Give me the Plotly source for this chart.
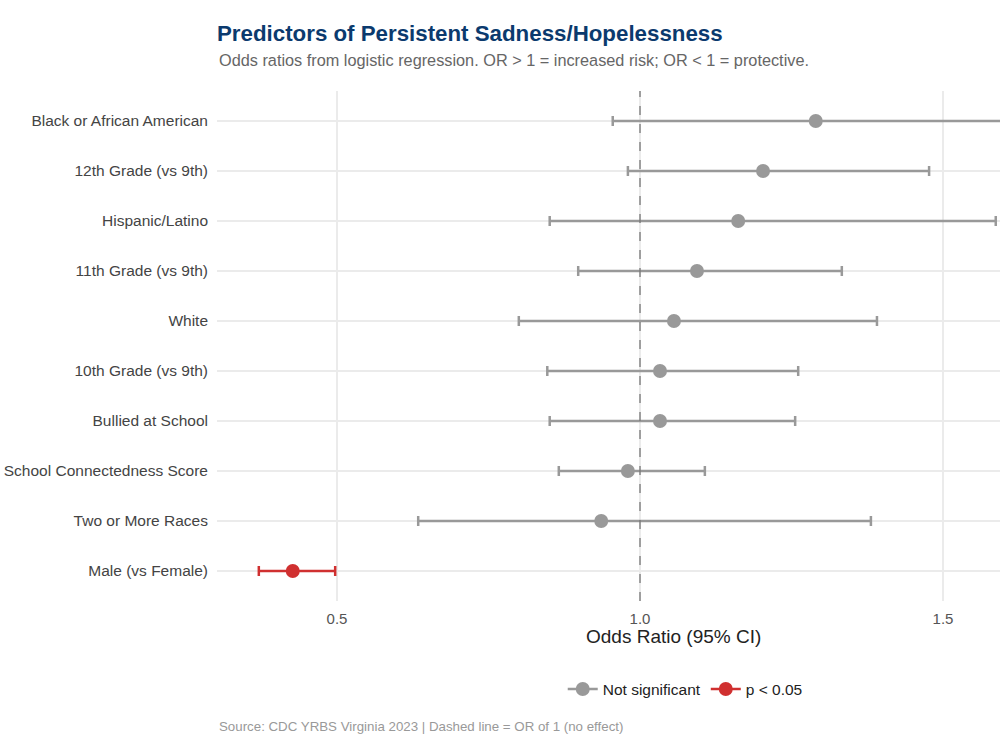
import plotly.graph_objects as go

predictors = ["Black or African American", "12th Grade (vs 9th)", "Hispanic/Latino",
              "11th Grade (vs 9th)", "White", "10th Grade (vs 9th)", "Bullied at School",
              "School Connectedness Score", "Two or More Races", "Male (vs Female)"]
odds_ratio = [1.290, 1.203, 1.162, 1.094, 1.056, 1.033, 1.033, 0.980, 0.936, 0.427]
ci_low = [0.955, 0.980, 0.851, 0.898, 0.800, 0.847, 0.851, 0.866, 0.634, 0.371]
ci_high = [1.75, 1.477, 1.587, 1.333, 1.391, 1.261, 1.256, 1.107, 1.381, 0.497]
significant = [False] * 9 + [True]
x_ticks = [0.5, 1.0, 1.5]

GREY = "#999999"
RED = "#d03030"
FONT = "Liberation Sans, Arial, sans-serif"

fig = go.Figure()
for sig, color, name in [(False, GREY, "Not significant"), (True, RED, "p < 0.05")]:
    idx = [i for i, s in enumerate(significant) if s == sig]
    xs = [odds_ratio[i] for i in idx]
    ys = [predictors[i] for i in idx]
    plus = [ci_high[i] - odds_ratio[i] for i in idx]
    minus = [odds_ratio[i] - ci_low[i] for i in idx]
    fig.add_trace(go.Scatter(
        x=xs, y=ys, mode="markers", showlegend=False, name=name,
        marker=dict(color=color, size=14),
        error_x=dict(type="data", symmetric=False, array=plus, arrayminus=minus,
                     color=color, thickness=2.5, width=5),
    ))
    fig.add_trace(go.Scatter(
        x=[None], y=[None], mode="lines+markers", name=name,
        marker=dict(color=color, size=14), line=dict(color=color, width=2.5),
    ))

fig.add_vline(x=1.0, line=dict(color="#777777", width=1.3, dash="dash"))

fig.update_layout(
    width=1000, height=750,
    paper_bgcolor="white", plot_bgcolor="white",
    margin=dict(l=217, r=0, t=91, b=149),
    font=dict(family=FONT, color="#444444", size=15.5),
    title=dict(
        text="<b>Predictors of Persistent Sadness/Hopelessness</b>",
        x=217 / 1000, xanchor="left", y=1 - 33 / 750, yanchor="middle",
        font=dict(size=22.3, color="#0b3a6e", family=FONT),
    ),
    xaxis=dict(
        range=[0.302, 1.594], tickvals=x_ticks, ticktext=["0.5", "1.0", "1.5"],
        showgrid=True, gridcolor="#ebebeb", gridwidth=1.5, zeroline=False,
        showline=False, ticks="", ticklabelstandoff=7,
        tickfont=dict(size=15, color="#555555"),
    ),
    yaxis=dict(
        categoryorder="array", categoryarray=predictors[::-1],
        range=[-0.6, 9.6],
        showgrid=True, gridcolor="#ebebeb", gridwidth=1.5, zeroline=False,
        showline=False, ticks="", ticklabelstandoff=8,
        tickfont=dict(size=15.5, color="#444444"),
    ),
    legend=dict(
        orientation="h", x=0.598, xanchor="center", y=-0.14, yanchor="top",
        font=dict(size=15.5, color="#222222"), bgcolor="rgba(0,0,0,0)",
    ),
)

fig.add_annotation(
    text="Odds Ratio (95% CI)",
    xref="paper", yref="paper", x=(673 - 217) / 783, xanchor="center",
    y=-(636 - 601) / 510, yanchor="middle",
    showarrow=False, font=dict(size=19, color="#222222", family=FONT),
)
fig.add_annotation(
    text="Odds ratios from logistic regression. OR > 1 = increased risk; OR < 1 = protective.",
    xref="paper", yref="paper", x=0, xanchor="left", y=1 + 31 / 510, yanchor="middle",
    showarrow=False, font=dict(size=16.3, color="#666666", family=FONT),
)
fig.add_annotation(
    text="Source: CDC YRBS Virginia 2023 | Dashed line = OR of 1 (no effect)",
    xref="paper", yref="paper", x=0, xanchor="left", y=-(726 - 601) / 510, yanchor="middle",
    showarrow=False, font=dict(size=13.3, color="#999999", family=FONT),
)

fig.write_html("out.html")
